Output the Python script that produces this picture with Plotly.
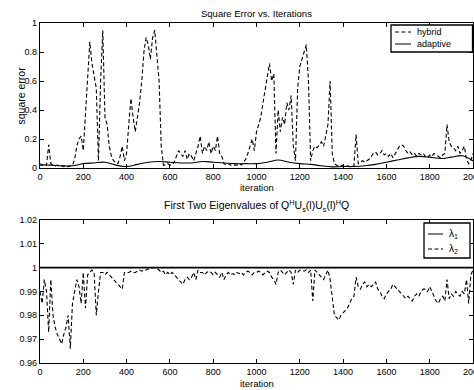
import plotly.graph_objects as go

# ---------------- data ----------------
iters = list(range(0, 2001, 10))

hybrid = [
    0.03, 0.02, 0.03, 0.02, 0.16, 0.03, 0.02, 0.015, 0.02, 0.01,      # 0-90
    0.015, 0.01, 0.015, 0.01, 0.015, 0.02, 0.06, 0.15, 0.2, 0.22,     # 100-190
    0.12, 0.4, 0.65, 0.87, 0.72, 0.62, 0.55, 0.05, 0.6, 0.95,         # 200-290
    0.35, 0.3, 0.15, 0.08, 0.05, 0.04, 0.03, 0.08, 0.15, 0.05,        # 300-390
    0.1, 0.3, 0.48, 0.35, 0.25, 0.35, 0.45, 0.6, 0.8, 0.9,            # 400-490
    0.85, 0.75, 0.9, 0.95, 0.8, 0.6, 0.15, 0.02, 0.02, 0.03,          # 500-590
    0.02, 0.02, 0.04, 0.08, 0.12, 0.1, 0.08, 0.12, 0.06, 0.1,         # 600-690
    0.08, 0.05, 0.1, 0.15, 0.22, 0.1, 0.15, 0.12, 0.18, 0.1,          # 700-790
    0.15, 0.12, 0.22, 0.1, 0.08, 0.03, 0.02, 0.03, 0.02, 0.02,        # 800-890
    0.025, 0.02, 0.03, 0.02, 0.04, 0.06, 0.1, 0.15, 0.2, 0.12,        # 900-990
    0.25, 0.3, 0.35, 0.45, 0.55, 0.62, 0.72, 0.6, 0.65, 0.1,          # 1000-1090
    0.4, 0.25, 0.35, 0.3, 0.45, 0.4, 0.5, 0.15, 0.05, 0.55,           # 1100-1190
    0.7, 0.75, 0.8, 0.85, 0.6, 0.05, 0.12, 0.15, 0.14, 0.16,          # 1200-1290
    0.18, 0.15, 0.22, 0.3, 0.6, 0.1, 0.03, 0.02, 0.01, 0.015,         # 1300-1390
    0.02, 0.01, 0.015, 0.01, 0.01, 0.015, 0.23, 0.03, 0.04, 0.05,     # 1400-1490
    0.04, 0.05, 0.06, 0.08, 0.1, 0.11, 0.09, 0.1, 0.12, 0.09,         # 1500-1590
    0.1, 0.08, 0.1, 0.07, 0.1, 0.12, 0.15, 0.16, 0.15, 0.12,          # 1600-1690
    0.1, 0.11, 0.09, 0.1, 0.08, 0.1, 0.09, 0.1, 0.08, 0.07,           # 1700-1790
    0.09, 0.08, 0.1, 0.09, 0.08, 0.07, 0.09, 0.1, 0.3, 0.18,          # 1800-1890
    0.15, 0.14, 0.12, 0.15, 0.1, 0.12, 0.15, 0.06, 0.03, 0.05,        # 1900-1990
    0.1,                                                              # 2000
]

adapt_iters = list(range(0, 2001, 50))
adaptive = [
    0.02, 0.02, 0.015, 0.015, 0.03, 0.035, 0.04, 0.02, 0.01, 0.025,
    0.04, 0.045, 0.04, 0.035, 0.035, 0.045, 0.04, 0.035, 0.03, 0.03,
    0.03, 0.04, 0.055, 0.04, 0.03, 0.025, 0.015, 0.008, 0.01, 0.01,
    0.015, 0.025, 0.04, 0.055, 0.07, 0.08, 0.075, 0.065, 0.075, 0.085,
    0.05,
]

lam1_iters = [0, 2000]
lambda1 = [1.0, 1.0]

lambda2 = [
    0.99, 0.985, 0.995, 0.99, 0.973, 0.995, 0.98, 0.975, 0.972, 0.97,
    0.968, 0.972, 0.975, 0.98, 0.966, 0.985, 0.99, 0.995, 0.992, 0.985,
    0.998, 0.983, 0.997, 0.998, 0.999, 0.998, 0.98, 0.99, 0.998, 0.998,
    0.997, 0.998, 0.997, 0.996, 0.995, 0.994, 0.993, 0.992, 0.991, 0.998,
    0.998, 0.998, 0.9985, 0.998, 0.998, 0.9985, 0.999, 0.9985, 0.999, 0.999,
    0.9995, 0.9995, 1.0, 1.0, 0.9995, 0.999, 0.998, 0.9985, 0.997, 0.998,
    0.997, 0.998, 0.997, 0.996, 0.995, 0.994, 0.993, 0.995, 0.996, 0.995,
    0.996, 0.998, 0.995, 0.999, 0.998, 0.998, 0.997, 0.998, 0.9985, 0.998,
    0.997, 0.998, 0.997, 0.996, 0.998, 0.995, 0.997, 0.998, 0.997, 0.9975,
    0.997, 0.998, 0.9975, 0.998, 0.997, 0.998, 0.9985, 0.998, 0.997, 0.998,
    0.998, 0.9985, 0.998, 0.997, 0.998, 0.9985, 0.998, 0.996, 0.995, 0.993,
    0.998, 0.999, 0.998, 0.997, 0.998, 0.999, 0.998, 0.993, 0.999, 0.998,
    0.999, 0.999, 0.9985, 0.999, 0.998, 0.999, 0.986, 0.999, 0.998, 0.997,
    0.996, 0.995, 0.997, 0.999, 0.995, 0.988, 0.98, 0.979, 0.978, 0.98,
    0.981, 0.982, 0.983, 0.985, 0.987, 0.988, 0.996, 0.992, 0.991, 0.993,
    0.994, 0.992, 0.993, 0.992, 0.993, 0.994, 0.991, 0.99, 0.988, 0.987,
    0.989, 0.99, 0.991, 0.993, 0.992, 0.991, 0.99, 0.989, 0.988, 0.987,
    0.988, 0.987, 0.986, 0.988, 0.989, 0.988, 0.99, 0.991, 0.991, 0.99,
    0.992, 0.99, 0.988, 0.986, 0.985, 0.987, 0.988, 0.986, 0.995, 0.987,
    0.989, 0.988, 0.99, 0.989, 0.988, 0.99, 0.989, 0.995, 0.985, 0.997,
    0.999,
]

x_ticks = [0, 200, 400, 600, 800, 1000, 1200, 1400, 1600, 1800, 2000]
x_tick_text = ["0", "200", "400", "600", "800", "1000", "1200", "1400", "1600", "1800", "2000"]
y1_ticks = [0, 0.2, 0.4, 0.6, 0.8, 1.0]
y1_tick_text = ["0", "0.2", "0.4", "0.6", "0.8", "1"]
y2_ticks = [0.96, 0.97, 0.98, 0.99, 1.0, 1.01, 1.02]
y2_tick_text = ["0.96", "0.97", "0.98", "0.99", "1", "1.01", "1.02"]

legend1_labels = ["hybrid", "adaptive"]
legend2_labels = ["λ<sub>1</sub>", "λ<sub>2</sub>"]

# ---------------- figure ----------------
FONT = "Liberation Sans, Arial, sans-serif"
W, H = 474.0, 390.0
ML, MR = 40.0, 1.0
PW = W - ML - MR

DASH = "4px,2.5px"

fig = go.Figure()
fig.add_trace(go.Scatter(x=iters, y=hybrid, name=legend1_labels[0], mode="lines",
                         line=dict(color="black", width=1.1, dash=DASH),
                         xaxis="x", yaxis="y"))
fig.add_trace(go.Scatter(x=adapt_iters, y=adaptive, name=legend1_labels[1], mode="lines",
                         line=dict(color="black", width=1.1, shape="spline"),
                         xaxis="x", yaxis="y"))
fig.add_trace(go.Scatter(x=lam1_iters, y=lambda1, name=legend2_labels[0], mode="lines",
                         line=dict(color="black", width=1.6),
                         xaxis="x2", yaxis="y2"))
fig.add_trace(go.Scatter(x=iters, y=lambda2, name=legend2_labels[1], mode="lines",
                         line=dict(color="black", width=1.1, dash=DASH),
                         xaxis="x2", yaxis="y2"))

top_dom = [1 - 168 / H, 1 - 23 / H]
bot_dom = [1 - 363 / H, 1 - 220 / H]

axis_common = dict(showline=True, linecolor="black", linewidth=1.3, mirror="ticks",
                   ticks="inside", ticklen=4, tickcolor="black", tickwidth=1,
                   showgrid=False, zeroline=False, automargin=False,
                   ticklabeloverflow="allow",
                   tickfont=dict(family=FONT, size=9, color="black"))


def px_x(p):
    return (p - ML) / PW


def px_y(p):
    return 1 - p / H


shapes = []
annotations = []

# legend 1 (top plot)
shapes.append(dict(type="rect", xref="paper", yref="paper",
                   x0=px_x(391), x1=px_x(472.5), y0=px_y(52), y1=px_y(25),
                   line=dict(color="black", width=1.3), fillcolor="white", layer="above"))
for i, (lbl, dash) in enumerate(zip(legend1_labels, [DASH, "solid"])):
    yy = px_y(32 + 12 * i)
    shapes.append(dict(type="line", xref="paper", yref="paper",
                       x0=px_x(395), x1=px_x(411), y0=yy, y1=yy,
                       line=dict(color="black", width=1, dash=dash), layer="above"))
    annotations.append(dict(text=lbl, xref="paper", yref="paper", x=px_x(415), y=yy,
                            xanchor="left", yanchor="middle", showarrow=False,
                            font=dict(family=FONT, size=9)))

# legend 2 (bottom plot)
shapes.append(dict(type="rect", xref="paper", yref="paper",
                   x0=px_x(424), x1=px_x(470), y0=px_y(258), y1=px_y(223),
                   line=dict(color="black", width=1.3), fillcolor="white", layer="above"))
for i, (lbl, dash) in enumerate(zip(legend2_labels, ["solid", DASH])):
    yy = px_y(234 + 15 * i)
    shapes.append(dict(type="line", xref="paper", yref="paper",
                       x0=px_x(428), x1=px_x(443), y0=yy, y1=yy,
                       line=dict(color="black", width=1, dash=dash), layer="above"))
    annotations.append(dict(text=lbl, xref="paper", yref="paper", x=px_x(447), y=yy,
                            xanchor="left", yanchor="middle", showarrow=False,
                            font=dict(family=FONT, size=10)))

annotations += [
    dict(text="Square Error vs. Iterations", xref="paper", yref="paper",
         x=0.5, y=px_y(14), xanchor="center", yanchor="middle",
         showarrow=False, font=dict(family=FONT, size=9.5)),
    dict(text="iteration", xref="paper", yref="paper",
         x=0.5, y=px_y(187), xanchor="center", yanchor="middle",
         showarrow=False, font=dict(family=FONT, size=9.5)),
    dict(text="square error", xref="paper", yref="paper",
         x=px_x(20), y=(top_dom[0] + top_dom[1]) / 2, xanchor="center", yanchor="middle",
         textangle=-90, showarrow=False, font=dict(family=FONT, size=10.5)),
    dict(text="First Two Eigenvalues of Q<sup>H</sup>U<sub>s</sub>(l)U<sub>s</sub>(l)<sup>H</sup>Q",
         xref="paper", yref="paper",
         x=0.5, y=px_y(206), xanchor="center", yanchor="middle",
         showarrow=False, font=dict(family=FONT, size=10.5)),
    dict(text="iteration", xref="paper", yref="paper",
         x=0.5, y=px_y(383), xanchor="center", yanchor="middle",
         showarrow=False, font=dict(family=FONT, size=9.5)),
]

fig.update_layout(
    width=W, height=H,
    margin=dict(l=ML, r=MR, t=0, b=0, autoexpand=False),
    paper_bgcolor="white", plot_bgcolor="white",
    font=dict(family=FONT, size=9, color="black"),
    showlegend=False,
    xaxis=dict(domain=[0, 1], range=[0, 2000], tickvals=x_ticks, ticktext=x_tick_text,
               anchor="y", **axis_common),
    yaxis=dict(domain=top_dom, range=[0, 1], tickvals=y1_ticks, ticktext=y1_tick_text,
               anchor="x", **axis_common),
    xaxis2=dict(domain=[0, 1], range=[0, 2000], tickvals=x_ticks, ticktext=x_tick_text,
                anchor="y2", **axis_common),
    yaxis2=dict(domain=bot_dom, range=[0.96, 1.02], tickvals=y2_ticks, ticktext=y2_tick_text,
                anchor="x2", **axis_common),
    shapes=shapes,
    annotations=annotations,
)

fig.write_html("out.html", config={"displayModeBar": False},
               post_script="document.body.style.margin='0';document.body.style.overflow='hidden';")
